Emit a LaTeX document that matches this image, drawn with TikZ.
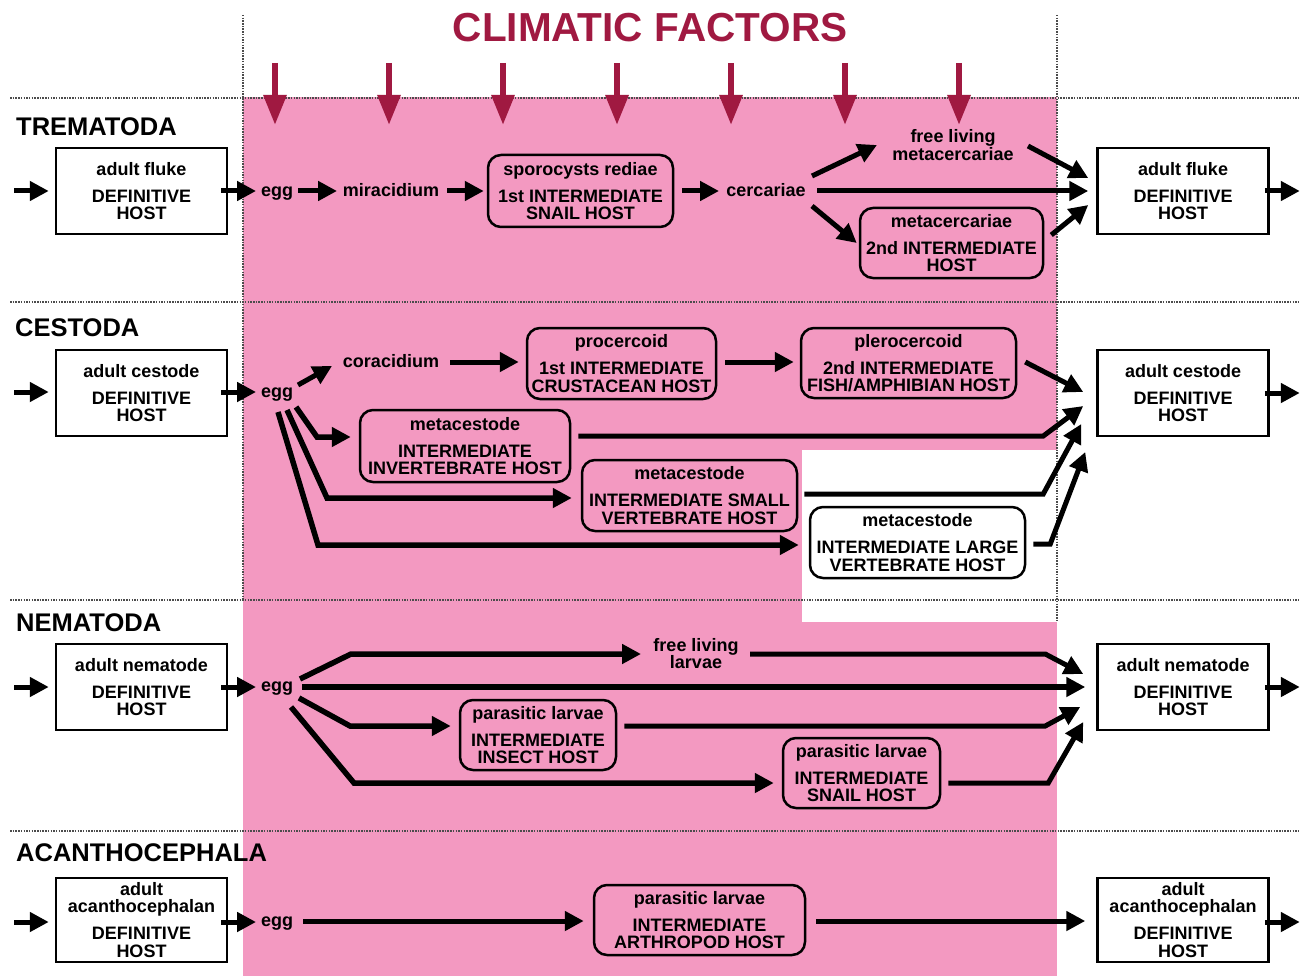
\documentclass[tikz,border=0pt]{standalone}
\usepackage{fontspec}
\setmainfont{Liberation Sans}
\usetikzlibrary{calc,arrows.meta}
\definecolor{crim}{RGB}{160,25,65}
\definecolor{pinkbg}{RGB}{243,153,193}
\begin{document}
\begin{tikzpicture}[x=1pt,y=-1pt,
  txt/.style={font=\bfseries\fontsize{18}{17.5}\selectfont, align=center, inner sep=0pt},
  defbox/.style={txt, draw, fill=white, line width=2.5pt, minimum width=171pt, minimum height=86pt},
  ibox/.style={txt, draw, line width=2.5pt, rounded corners=13pt},
  sect/.style={font=\bfseries\fontsize{25.5}{28}\selectfont, anchor=west, inner sep=0pt},
  arr/.style={line width=5pt, -{Triangle[length=19pt,width=19pt]}},
  fat/.style={line width=5.5pt, -{Triangle[length=19pt,width=19pt]}},
  clim/.style={crim, line width=6pt, -{Triangle[length=30pt,width=22pt]}},
  sepline/.style={dash pattern=on 1.5pt off 1.2pt, line width=1.5pt, black!70}
]
\useasboundingbox (0,0) rectangle (1300,976);
% backgrounds
\fill[pinkbg] (243,97) rectangle (1057,976);
\fill[white] (802,450) rectangle (1057,622);
\foreach \yy in {98,302,600,831} \draw[sepline] (10,\yy) -- (1300,\yy);
\draw[sepline] (243,15) -- (243,600);
\draw[sepline] (1057,15) -- (1057,622);

% title and climatic arrows
\node[font=\bfseries\fontsize{40.5}{42}\selectfont, text=crim, inner sep=0pt] (title) at (650,28) {CLIMATIC FACTORS};
\foreach \i/\xx in {1/275,2/389,3/503,4/617,5/731,6/845,7/959}{
  \coordinate (cfa\i) at (\xx,63);
  \coordinate (cfb\i) at (\xx,125);
  \draw[clim] (cfa\i) -- (cfb\i);
}

% ================= TREMATODA
\node[sect] (trem) at (16,127) {TREMATODA};
\node[defbox] (fluke1) at (141.5,191) {adult fluke\\[9.5pt]DEFINITIVE\\HOST};
\node[txt] (egg1) at (277,194) {egg};
\node[txt] (mir) at (391,190) {miracidium};
\node[ibox, minimum width=185pt, minimum height=72pt] (spo) at (580.5,191) {sporocysts rediae\\[9.5pt]1st INTERMEDIATE\\SNAIL HOST};
\node[txt] (cer) at (766,190) {cercariae};
\node[txt] (flm) at (953,145) {free living\\metacercariae};
\node[ibox, minimum width=183pt, minimum height=70pt] (met2) at (951.5,243) {metacercariae\\[9.5pt]2nd INTERMEDIATE\\HOST};
\node[defbox] (fluke2) at (1183,191) {adult fluke\\[9.5pt]DEFINITIVE\\HOST};
\coordinate (in1) at ($(fluke1)+(-127.5,0)$);
\draw[arr] (in1) -- ($(fluke1.west)+(-6,0)$);
\draw[arr] ($(fluke1.east)+(-7,0)$) -- ($(egg1)+(-21,-3)$);
\draw[arr] ($(egg1)+(21,-3)$) -- ($(mir)+(-54,1)$);
\draw[arr] ($(mir)+(56,1)$) -- ($(spo.west)+(-3,0)$);
\draw[arr] ($(spo.east)+(8,0)$) -- ($(cer)+(-47,1)$);
\draw[arr] ($(cer)+(46,-14)$) -- ($(flm)+(-76,0)$);
\draw[arr] ($(flm)+(75,1)$) -- ($(fluke2.west)+(-8,-13)$);
\draw[arr] ($(cer)+(51,1)$) -- ($(fluke2.west)+(-8,0)$);
\draw[arr] ($(cer)+(46,16)$) -- ($(met2.west)+(-2,0)$);
\draw[arr] ($(met2.east)+(7,-8)$) -- ($(fluke2.west)+(-8,14)$);
\coordinate (out1) at ($(fluke2.east)+(30,0)$);
\draw[arr] ($(fluke2.east)+(-5,0)$) -- (out1);

% ================= CESTODA
\node[sect] (cest) at (15,328) {CESTODA};
\node[defbox] (ces1) at (141.5,393) {adult cestode\\[9.5pt]DEFINITIVE\\HOST};
\node[txt] (egg2) at (277,395) {egg};
\node[txt] (cor) at (391,361) {coracidium};
\node[ibox, minimum width=189pt, minimum height=71pt] (pro) at (621.5,363.5) {procercoid\\[9.5pt]1st INTERMEDIATE\\CRUSTACEAN HOST};
\node[ibox, minimum width=215pt, minimum height=70pt] (ple) at (908.5,363) {plerocercoid\\[9.5pt]2nd INTERMEDIATE\\FISH/AMPHIBIAN HOST};
\node[ibox, minimum width=210pt, minimum height=72pt] (inv) at (465,446) {metacestode\\[9.5pt]INTERMEDIATE\\INVERTEBRATE HOST};
\node[ibox, minimum width=215pt, minimum height=71pt] (sma) at (689.5,495.5) {metacestode\\[9.5pt]INTERMEDIATE SMALL\\VERTEBRATE HOST};
\node[ibox, minimum width=215pt, minimum height=71pt] (lar) at (917.5,542.5) {metacestode\\[9.5pt]INTERMEDIATE LARGE\\VERTEBRATE HOST};
\node[defbox] (ces2) at (1183,393) {adult cestode\\[9.5pt]DEFINITIVE\\HOST};
\coordinate (in2) at ($(ces1)+(-127.5,-1)$);
\draw[arr] (in2) -- ($(ces1.west)+(-6,-1)$);
\draw[arr] ($(ces1.east)+(-7,-1)$) -- ($(egg2)+(-21,-3)$);
\draw[arr] ($(egg2)+(21,-10)$) -- ($(cor)+(-59,5)$);
\draw[arr] ($(cor)+(59,1)$) -- ($(pro.west)+(-7,-1.5)$);
\draw[arr] ($(pro.east)+(8,-1.5)$) -- ($(ple.west)+(-6,-1)$);
\draw[arr] ($(ple.east)+(8,-1)$) -- ($(ces2.west)+(-13,-1)$);
\draw[fat] ($(egg2)+(19,12)$) -- ($(egg2)+(40,42)$) -- ($(inv.west)+(-8,-9)$);
\draw[arr] ($(inv.east)+(7,-10)$) -- ($(ces2.west)+(-53,43)$) -- ($(ces2.west)+(-13,13)$);
\draw[fat] ($(egg2)+(10,15)$) -- ($(egg2)+(50,103)$) -- ($(sma.west)+(-9,2.5)$);
\draw[arr] ($(sma.east)+(6,-1.5)$) -- ($(ces2.west)+(-53,101)$) -- ($(ces2.west)+(-15,31)$);
\draw[fat] ($(egg2)+(1,17)$) -- ($(egg2)+(41,150)$) -- ($(lar.west)+(-10,2.5)$);
\draw[arr] ($(lar.east)+(7,1.5)$) -- ($(ces2.west)+(-46,151)$) -- ($(ces2.west)+(-11,59)$);
\coordinate (out2) at ($(ces2.east)+(30,0)$);
\draw[arr] ($(ces2.east)+(-5,0)$) -- (out2);

% ================= NEMATODA
\node[sect] (nema) at (16,623) {NEMATODA};
\node[defbox] (nem1) at (141.5,687) {adult nematode\\[9.5pt]DEFINITIVE\\HOST};
\node[txt] (egg3) at (277,689) {egg};
\node[txt] (fll) at (696,653.5) {free living\\larvae};
\node[ibox, minimum width=156pt, minimum height=70pt] (ins) at (538,735) {parasitic larvae\\[9.5pt]INTERMEDIATE\\INSECT HOST};
\node[ibox, minimum width=157pt, minimum height=70pt] (sna) at (861.5,773) {parasitic larvae\\[9.5pt]INTERMEDIATE\\SNAIL HOST};
\node[defbox] (nem2) at (1183,687) {adult nematode\\[9.5pt]DEFINITIVE\\HOST};
\coordinate (in3) at ($(nem1)+(-127.5,0)$);
\draw[arr] (in3) -- ($(nem1.west)+(-6,0)$);
\draw[arr] ($(nem1.east)+(-7,0)$) -- ($(egg3)+(-21,-2)$);
\draw[fat] ($(egg3)+(23,-10)$) -- ($(egg3)+(74,-35)$) -- ($(fll)+(-55,0.5)$);
\draw[arr] ($(fll)+(54,0.5)$) -- ($(nem2.west)+(-51,-33)$) -- ($(nem2.west)+(-13,-13)$);
\draw[fat] ($(egg3)+(25,-2)$) -- ($(nem2.west)+(-11,0)$);
\draw[fat] ($(egg3)+(22,9)$) -- ($(egg3)+(73,37)$) -- ($(ins.west)+(-8,-9)$);
\draw[arr] ($(ins.east)+(7,-9)$) -- ($(nem2.west)+(-51,39)$) -- ($(nem2.west)+(-16,20)$);
\draw[fat] ($(egg3)+(14,18)$) -- ($(egg3)+(77,94)$) -- ($(sna.west)+(-8,10)$);
\draw[arr] ($(sna.east)+(7,10)$) -- ($(nem2.west)+(-48,96)$) -- ($(nem2.west)+(-13,35)$);
\coordinate (out3) at ($(nem2.east)+(30,0)$);
\draw[arr] ($(nem2.east)+(-5,0)$) -- (out3);

% ================= ACANTHOCEPHALA
\node[sect] (acan) at (16,853) {ACANTHOCEPHALA};
\node[defbox, minimum height=84pt] (aca1) at (141.5,920) {adult\\acanthocephalan\\[9.5pt]DEFINITIVE\\HOST};
\node[txt] (egg4) at (277,924) {egg};
\node[ibox, minimum width=211pt, minimum height=70pt] (art) at (699.5,920) {parasitic larvae\\[9.5pt]INTERMEDIATE\\ARTHROPOD HOST};
\node[defbox, minimum height=84pt] (aca2) at (1183,920) {adult\\acanthocephalan\\[9.5pt]DEFINITIVE\\HOST};
\coordinate (in4) at ($(aca1)+(-127.5,2)$);
\draw[arr] (in4) -- ($(aca1.west)+(-6,2)$);
\draw[arr] ($(aca1.east)+(-7,2)$) -- ($(egg4)+(-21,-2)$);
\draw[arr] ($(egg4)+(26,-3)$) -- ($(art.west)+(-9,1)$);
\draw[arr] ($(art.east)+(10,1)$) -- ($(aca2.west)+(-11,1)$);
\coordinate (out4) at ($(aca2.east)+(30,2)$);
\draw[arr] ($(aca2.east)+(-5,2)$) -- (out4);
\end{tikzpicture}
\end{document}
